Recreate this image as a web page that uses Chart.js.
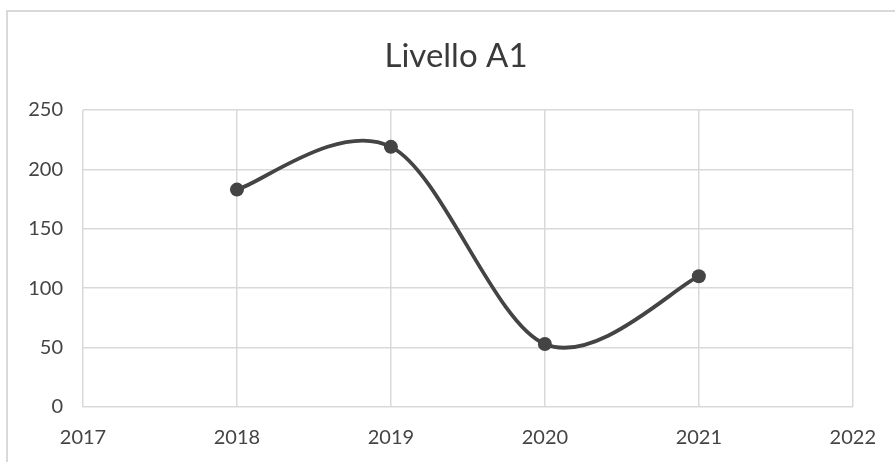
<!DOCTYPE html>
<html>
<head>
<meta charset="utf-8">
<script src="https://cdn.jsdelivr.net/npm/chart.js@4.4.1/dist/chart.umd.min.js"></script>
<style>
  html, body { margin: 0; padding: 0; background: #ffffff; }
  #wrap { width: 895px; height: 462px; position: relative; }
</style>
</head>
<body>
<div id="wrap"><canvas id="chart" width="895" height="462"></canvas></div>
<script>
// Yearly totals for level A1
const years = [2018, 2019, 2020, 2021];
const values = [183, 219, 53, 110];
const xTicks = [2017, 2018, 2019, 2020, 2021, 2022];
const yTicks = [0, 50, 100, 150, 200, 250];
const chartTitle = 'Livello A1';

const points = years.map((y, i) => ({ x: y, y: values[i] }));

const gridColor = '#d9d9d9';
const tickColor = '#444444';
const font = 'Lato, "Open Sans", sans-serif';

// Thin outer frame and the centred title
const framePlugin = {
  id: 'frame',
  beforeDraw(chart) {
    const ctx = chart.ctx;
    ctx.save();
    ctx.strokeStyle = gridColor;
    ctx.lineWidth = 2;
    ctx.beginPath();
    ctx.moveTo(7, chart.height);
    ctx.lineTo(7, 11);
    ctx.lineTo(chart.width, 11);
    ctx.stroke();
    ctx.fillStyle = '#3a3a3a';
    ctx.font = '33px ' + font;
    ctx.textAlign = 'center';
    ctx.textBaseline = 'alphabetic';
    ctx.fillText(chartTitle, (7 + chart.width) / 2 + 5, 67);
    ctx.restore();
  }
};

// Uniform Catmull-Rom style smoothing (control handles = 1/6 of neighbour chord)
const smoothPlugin = {
  id: 'smoothCurve',
  beforeDatasetsDraw(chart) {
    chart.data.datasets.forEach((ds, i) => {
      const meta = chart.getDatasetMeta(i);
      const line = meta.dataset;
      line.updateControlPoints(chart.chartArea, meta.indexAxis);
      const pts = meta.data;
      pts.forEach((p, k) => {
        const prev = pts[k - 1] || p;
        const next = pts[k + 1] || p;
        const dx = (next.x - prev.x) / 6;
        const dy = (next.y - prev.y) / 6;
        p.cp1x = p.x - dx; p.cp1y = p.y - dy;
        p.cp2x = p.x + dx; p.cp2y = p.y + dy;
      });
      line._path = undefined;
    });
  }
};

new Chart(document.getElementById('chart'), {
  type: 'line',
  data: {
    datasets: [{
      data: points,
      borderColor: '#444444',
      backgroundColor: '#444444',
      borderWidth: 3.8,
      pointRadius: 7,
      pointBorderWidth: 0,
      pointBackgroundColor: '#444444',
      tension: 0.5,
      fill: false
    }]
  },
  options: {
    responsive: false,
    animation: false,
    layout: { padding: { left: 0, right: 41, top: 110, bottom: 0 } },
    plugins: {
      legend: { display: false },
      tooltip: { enabled: false },
      title: { display: false }
    },
    scales: {
      x: {
        type: 'linear',
        min: xTicks[0],
        max: xTicks[xTicks.length - 1],
        afterBuildTicks: s => { s.ticks = xTicks.map(v => ({ value: v })); },
        afterFit: s => { s.height = 55; },
        grid: { color: gridColor, lineWidth: 1.5, drawTicks: false },
        border: { display: false },
        ticks: {
          color: tickColor,
          font: { family: font, size: 20 },
          padding: 19,
          callback: v => String(v)
        }
      },
      y: {
        min: yTicks[0],
        max: yTicks[yTicks.length - 1],
        afterBuildTicks: s => { s.ticks = yTicks.map(v => ({ value: v })); },
        afterFit: s => { s.width = 83; },
        grid: { color: gridColor, lineWidth: 1.5, drawTicks: false },
        border: { display: false },
        ticks: {
          color: tickColor,
          font: { family: font, size: 20 },
          padding: 20
        }
      }
    }
  },
  plugins: [framePlugin, smoothPlugin]
});
</script>
</body>
</html>
